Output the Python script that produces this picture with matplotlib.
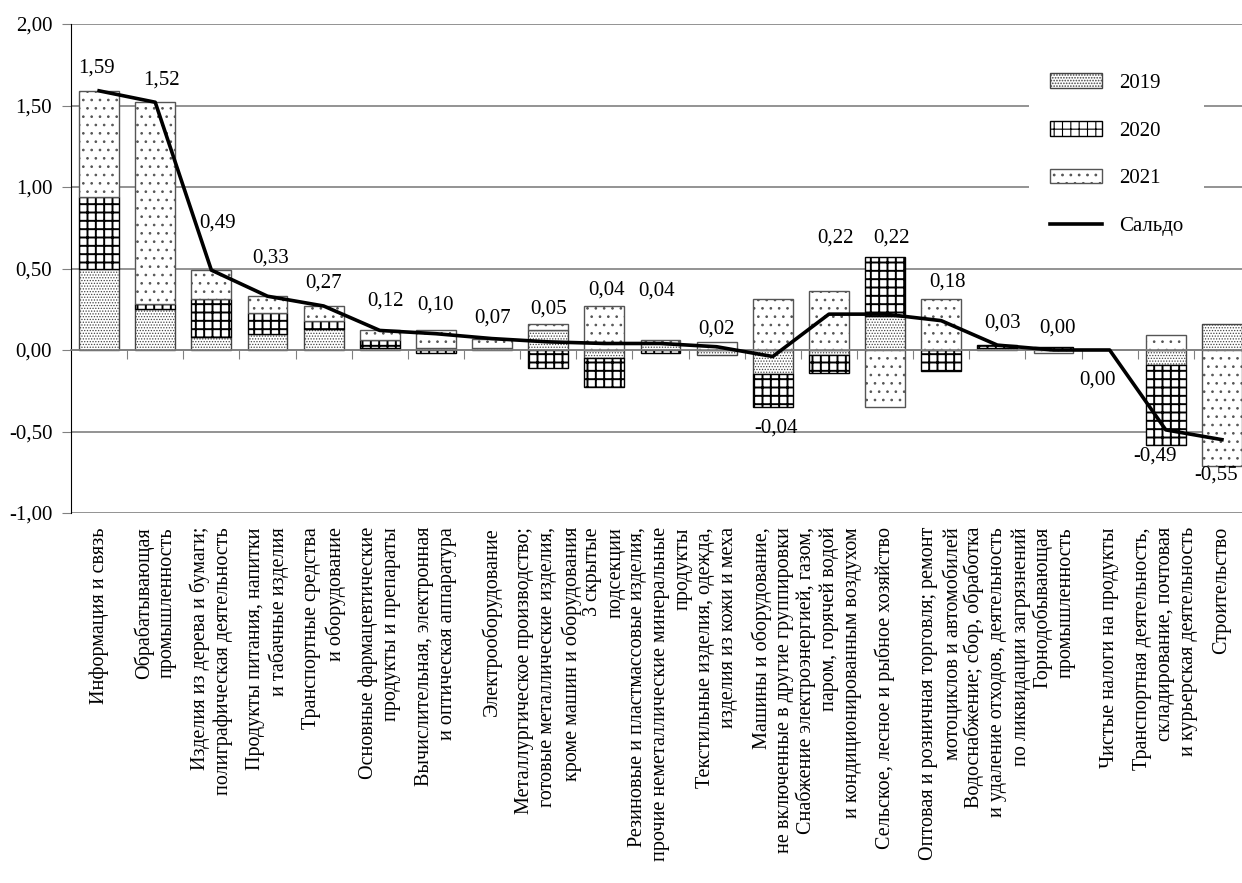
import numpy as np
import matplotlib
matplotlib.use('Agg')
import matplotlib.pyplot as plt
from matplotlib.ticker import FuncFormatter

plt.rcParams['font.family'] = ['Liberation Serif', 'DejaVu Serif']

categories = [
    'Информация и связь',
    'Обрабатывающая\nпромышленность',
    'Изделия из дерева и бумаги;\nполиграфическая деятельность',
    'Продукты питания, напитки\nи табачные изделия',
    'Транспортные средства\nи оборудование',
    'Основные фармацевтические\nпродукты и препараты',
    'Вычислительная, электронная\nи оптическая аппаратура',
    'Электрооборудование',
    'Металлургическое производство;\nготовые металлические изделия,\nкроме машин и оборудования',
    '3 скрытые\nподсекции',
    'Резиновые и пластмассовые изделия,\nпрочие неметаллические минеральные\nпродукты',
    'Текстильные изделия, одежда,\nизделия из кожи и меха',
    'Машины и оборудование,\nне включенные в другие группировки',
    'Снабжение электроэнергией, газом,\nпаром, горячей водой\nи кондиционированным воздухом',
    'Сельское, лесное и рыбное хозяйство',
    'Оптовая и розничная торговля; ремонт\nмотоциклов и автомобилей',
    'Водоснабжение; сбор, обработка\nи удаление отходов, деятельность\nпо ликвидации загрязнений',
    'Горнодобывающая\nпромышленность',
    'Чистые налоги на продукты',
    'Транспортная деятельность,\nскладирование, почтовая\nи курьерская деятельность',
    'Строительство',
]

v2019 = [0.50, 0.25, 0.08, 0.10, 0.13, 0.01, 0.01, 0.01, 0.12, -0.05, 0.04,
         -0.03, -0.15, -0.03, 0.21, 0.00, 0.01, 0.00, 0.00, -0.09, 0.16]
v2020 = [0.44, 0.03, 0.23, 0.13, 0.05, 0.05, -0.02, 0.00, -0.11, -0.18, -0.02,
         0.00, -0.20, -0.11, 0.36, -0.13, 0.02, 0.02, 0.00, -0.49, 0.00]
v2021 = [0.65, 1.24, 0.18, 0.10, 0.09, 0.06, 0.11, 0.06, 0.04, 0.27, 0.02,
         0.05, 0.31, 0.36, -0.35, 0.31, 0.00, -0.02, 0.00, 0.09, -0.71]
saldo = [1.59, 1.52, 0.49, 0.33, 0.27, 0.12, 0.10, 0.07, 0.05, 0.04, 0.04,
         0.02, -0.04, 0.22, 0.22, 0.18, 0.03, 0.00, 0.00, -0.49, -0.55]

# сдвиг подписей сальдо (в пикселях)
label_dx = [-3, 6, 6, 3, 0, 6, 0, 0, 0, 2, -4,
            0, 3, 7, 6, 6, 5, 4, -12, -11, -6]
label_dy = [23, 22, 47, 38, 23, 29, 29, 21, 33, 53, 52,
            18, -72, 76, 76, 39, 22, 22, -30, -26, -35]


def fmt(v):
    return f'{v:.2f}'.replace('.', ',')


fig = plt.figure(figsize=(12.42, 8.83), dpi=100)
ax = fig.add_axes([71 / 1242, 370 / 883, 1179 / 1242, 489 / 883])

x = np.arange(len(categories))
# значения, штриховка, цвет края, толщина штриховки, подпись
series = [
    (v2019, '......', '#444444', 0.6, '2019'),
    (v2020, '++', 'black', 1.4, '2020'),
    (v2021, '..', '#555555', 0.7, '2021'),
]
pos_base = np.zeros(len(x))
neg_base = np.zeros(len(x))
handles = []
for vals, hatch, ec, hlw, name in series:
    vals = np.array(vals)
    base = np.where(vals >= 0, pos_base, neg_base)
    lw = np.where(vals == 0, 0, 1.0)
    plt.rcParams['hatch.linewidth'] = hlw
    bars = ax.bar(x, vals, width=0.71, bottom=base, color='white', edgecolor=ec,
                  hatch=hatch, linewidth=lw, label=name, zorder=2)
    for p in bars:
        if hasattr(p, 'set_hatch_linewidth'):
            p.set_hatch_linewidth(hlw)
    handles.append(bars)
    pos_base += np.clip(vals, 0, None)
    neg_base += np.clip(vals, None, 0)

line, = ax.plot(x, saldo, color='black', lw=2.6, zorder=4, label='Сальдо')
handles.append(line)

for i, v in enumerate(saldo):
    ax.annotate(fmt(v), (i, v), xytext=(label_dx[i], label_dy[i]),
                textcoords='offset pixels', ha='center', va='center',
                fontsize=15, zorder=5)

for i, c in enumerate(categories):
    ax.annotate(c, (i, -1), xytext=(0, -14), textcoords='offset pixels',
                rotation=90, ha='center', va='top', multialignment='right',
                fontsize=14.5, linespacing=1.28, annotation_clip=False)

ax.set_xlim(-0.5, 20.5)
ax.set_ylim(-1, 2)
ax.set_yticks(np.arange(-1, 2.01, 0.5))
ax.yaxis.set_major_formatter(FuncFormatter(lambda v, p: fmt(v)))
ax.set_xticks(np.arange(0.5, 20.5, 1))
ax.tick_params(axis='x', length=6.5, color='#808080', labelbottom=False, direction='out')
ax.tick_params(axis='y', length=6.5, color='#808080', labelsize=15, pad=7)

ax.yaxis.grid(True, color='#808080', lw=1.2)
ax.set_axisbelow(True)
ax.spines['top'].set_visible(False)
ax.spines['right'].set_visible(False)
ax.spines['bottom'].set_position(('data', 0))
ax.spines['bottom'].set_color('#808080')
ax.spines['bottom'].set_linewidth(1.2)
ax.spines['left'].set_color('black')

plt.rcParams['hatch.linewidth'] = 0.8
ax.legend(handles=handles, labels=['2019', '2020', '2021', 'Сальдо'],
          loc='upper left', bbox_to_anchor=(1019 / 1242, 1 - 42 / 883),
          bbox_transform=fig.transFigure, frameon=True, facecolor='white',
          edgecolor='none', framealpha=1, fancybox=False, fontsize=15,
          handlelength=2.5, handleheight=0.7, labelspacing=1.35,
          handletextpad=0.8, borderpad=1.0)

fig.savefig('out.png', dpi=100)
